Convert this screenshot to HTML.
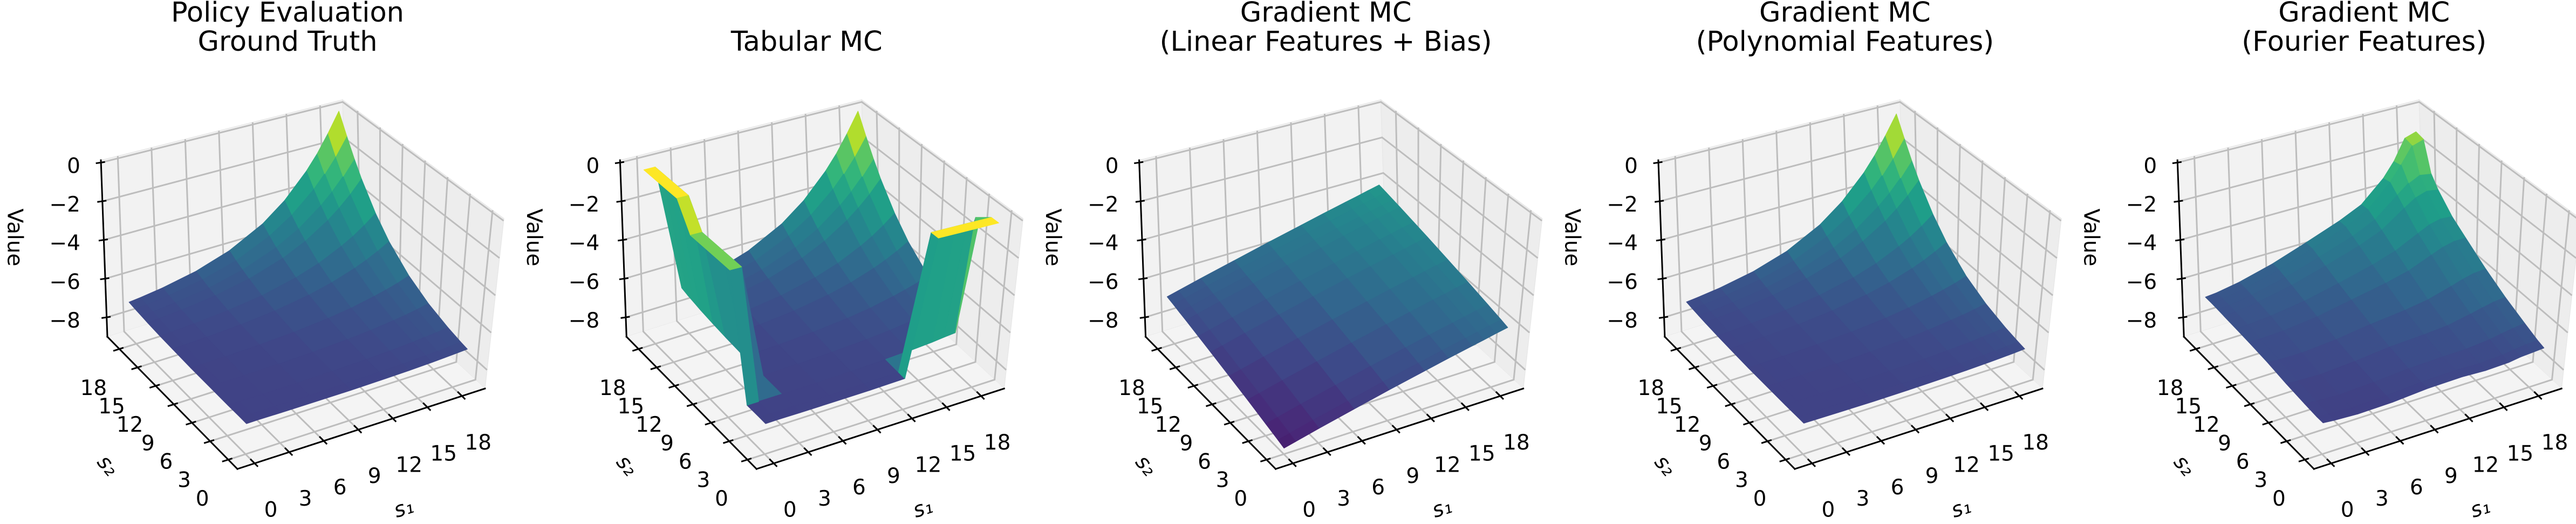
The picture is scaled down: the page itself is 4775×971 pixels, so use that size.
<!DOCTYPE html>
<html><head><meta charset="utf-8"><title>Value function surfaces</title>
<style>
html,body{margin:0;padding:0;background:#fff;}
svg{display:block;font-family:"DejaVu Sans","Liberation Sans",sans-serif;}
</style></head>
<body>
<svg id="chart" xmlns="http://www.w3.org/2000/svg" width="4775" height="971" viewBox="0 0 4775 971"></svg>
<script>
// ---- data ----
const S_GRID = [0,1,3,6,9,12,14,16,17,18,19];
const TICKS_S = [0,3,6,9,12,15,18];
const TICKS_Z = [0,-2,-4,-6,-8];
const TITLES = [["Policy Evaluation","Ground Truth"],["Tabular MC"],["Gradient MC","(Linear Features + Bias)"],["Gradient MC","(Polynomial Features)"],["Gradient MC","(Fourier Features)"]];
// rows = s2 index, cols = s1 index (over S_GRID)
const V_GROUND_TRUTH = [
[-7.49,-7.48,-7.48,-7.46,-7.44,-7.39,-7.35,-7.29,-7.25,-7.21,-7.16],
[-7.48,-7.48,-7.47,-7.46,-7.42,-7.37,-7.32,-7.25,-7.21,-7.16,-7.10],
[-7.48,-7.47,-7.46,-7.44,-7.39,-7.32,-7.25,-7.16,-7.09,-7.03,-6.94],
[-7.46,-7.45,-7.44,-7.39,-7.32,-7.21,-7.10,-6.94,-6.85,-6.73,-6.59],
[-7.44,-7.42,-7.39,-7.32,-7.21,-7.03,-6.85,-6.59,-6.43,-6.25,-6.02],
[-7.39,-7.37,-7.32,-7.21,-7.03,-6.73,-6.43,-6.02,-5.76,-5.45,-5.10],
[-7.35,-7.32,-7.25,-7.09,-6.85,-6.43,-6.02,-5.45,-5.10,-4.67,-4.17],
[-7.29,-7.25,-7.16,-6.94,-6.59,-6.02,-5.45,-4.67,-4.17,-3.59,-2.89],
[-7.25,-7.21,-7.09,-6.85,-6.43,-5.76,-5.10,-4.17,-3.59,-2.89,-2.08],
[-7.21,-7.16,-7.03,-6.73,-6.25,-5.45,-4.67,-3.59,-2.89,-2.08,-1.12],
[-7.16,-7.10,-6.94,-6.59,-6.02,-5.10,-4.17,-2.89,-2.08,-1.12,-0.05]];
const V_TABULAR = [
[-7.49,-7.48,-7.48,-7.46,-7.44,-7.39,-0.40,-0.40,-0.40,-0.40,-0.40],
[-7.48,-7.48,-7.47,-7.46,-7.42,-7.37,-0.40,-0.40,-0.40,-0.40,-0.40],
[-7.48,-7.47,-7.46,-7.44,-7.39,-7.32,-7.25,-7.16,-7.09,-7.03,-1.00],
[-1.60,-1.60,-7.44,-7.39,-7.32,-7.21,-7.10,-6.94,-6.85,-6.73,-6.59],
[-1.60,-1.60,-7.39,-7.32,-7.21,-7.03,-6.85,-6.59,-6.43,-6.25,-6.02],
[-1.60,-1.60,-7.32,-7.21,-7.03,-6.73,-6.43,-6.02,-5.76,-5.45,-5.10],
[-0.30,-0.30,-7.25,-7.09,-6.85,-6.43,-6.02,-5.45,-5.10,-4.67,-4.17],
[-0.30,-0.30,-7.16,-6.94,-6.59,-6.02,-5.45,-4.67,-4.17,-3.59,-2.89],
[-0.30,-0.30,-7.09,-6.85,-6.43,-5.76,-5.10,-4.17,-3.59,-2.89,-2.08],
[-0.30,-0.30,-7.03,-6.73,-6.25,-5.45,-4.67,-3.59,-2.89,-2.08,-1.12],
[-0.30,-0.30,-6.94,-6.59,-6.02,-5.10,-4.17,-2.89,-2.08,-1.12,-0.05]];
const V_LINEAR = [
[-8.70,-8.56,-8.27,-7.85,-7.42,-7.00,-6.71,-6.43,-6.29,-6.14,-6.00],
[-8.60,-8.46,-8.17,-7.75,-7.32,-6.90,-6.61,-6.33,-6.19,-6.04,-5.90],
[-8.41,-8.27,-7.98,-7.56,-7.13,-6.71,-6.42,-6.14,-6.00,-5.85,-5.71],
[-8.12,-7.98,-7.69,-7.27,-6.84,-6.42,-6.13,-5.85,-5.71,-5.56,-5.42],
[-7.84,-7.70,-7.41,-6.99,-6.56,-6.14,-5.85,-5.57,-5.43,-5.28,-5.14],
[-7.55,-7.41,-7.12,-6.70,-6.27,-5.85,-5.56,-5.28,-5.14,-4.99,-4.85],
[-7.36,-7.22,-6.93,-6.51,-6.08,-5.66,-5.37,-5.09,-4.95,-4.80,-4.66],
[-7.16,-7.02,-6.73,-6.31,-5.88,-5.46,-5.17,-4.89,-4.75,-4.60,-4.46],
[-7.07,-6.93,-6.64,-6.22,-5.79,-5.37,-5.08,-4.80,-4.66,-4.51,-4.37],
[-6.97,-6.83,-6.54,-6.12,-5.69,-5.27,-4.98,-4.70,-4.56,-4.41,-4.27],
[-6.88,-6.74,-6.45,-6.03,-5.60,-5.18,-4.89,-4.61,-4.47,-4.32,-4.18]];
const V_POLYNOMIAL = [
[-7.47,-7.47,-7.47,-7.46,-7.43,-7.38,-7.34,-7.28,-7.24,-7.20,-7.15],
[-7.47,-7.47,-7.46,-7.45,-7.41,-7.36,-7.31,-7.24,-7.20,-7.15,-7.09],
[-7.47,-7.46,-7.45,-7.43,-7.38,-7.31,-7.24,-7.15,-7.08,-7.02,-6.94],
[-7.45,-7.44,-7.43,-7.38,-7.31,-7.20,-7.09,-6.93,-6.84,-6.73,-6.60],
[-7.43,-7.41,-7.38,-7.31,-7.20,-7.02,-6.84,-6.58,-6.43,-6.26,-6.05],
[-7.38,-7.36,-7.31,-7.20,-7.02,-6.72,-6.43,-6.03,-5.78,-5.48,-5.14],
[-7.34,-7.31,-7.24,-7.08,-6.84,-6.43,-6.03,-5.47,-5.13,-4.71,-4.23],
[-7.28,-7.24,-7.15,-6.93,-6.58,-6.03,-5.47,-4.71,-4.22,-3.66,-2.98],
[-7.24,-7.20,-7.08,-6.84,-6.43,-5.78,-5.13,-4.22,-3.66,-2.98,-2.18],
[-7.20,-7.15,-7.02,-6.73,-6.26,-5.48,-4.71,-3.66,-2.98,-2.18,-1.24],
[-7.15,-7.09,-6.94,-6.60,-6.05,-5.14,-4.23,-2.98,-2.18,-1.24,-0.20]];
const V_FOURIER = [
[-7.45,-7.50,-7.55,-7.50,-7.35,-7.30,-7.35,-7.30,-7.20,-7.15,-7.10],
[-7.45,-7.50,-7.55,-7.48,-7.33,-7.27,-7.30,-7.22,-7.12,-7.05,-7.00],
[-7.40,-7.45,-7.50,-7.40,-7.25,-7.18,-7.15,-7.02,-6.90,-6.80,-6.72],
[-7.30,-7.35,-7.38,-7.25,-7.05,-6.95,-6.85,-6.60,-6.45,-6.32,-6.25],
[-7.15,-7.20,-7.20,-7.05,-6.80,-6.60,-6.40,-6.05,-5.85,-5.70,-5.65],
[-7.05,-7.05,-7.00,-6.80,-6.45,-6.10,-5.80,-5.30,-5.05,-4.90,-4.90],
[-7.00,-6.95,-6.85,-6.60,-6.20,-5.75,-5.35,-4.75,-4.45,-4.30,-4.35],
[-6.95,-6.90,-6.75,-6.40,-5.90,-5.35,-4.85,-4.00,-3.60,-3.40,-3.50],
[-6.92,-6.88,-6.70,-6.30,-5.75,-5.15,-4.60,-3.60,-3.10,-2.80,-2.90],
[-6.90,-6.85,-6.65,-6.20,-5.60,-4.95,-4.35,-3.20,-2.40,-1.50,-1.30],
[-6.90,-6.85,-6.65,-6.20,-5.60,-4.95,-4.40,-3.30,-2.50,-1.40,-1.20]];
const PANEL_VALUES = [V_GROUND_TRUTH, V_TABULAR, V_LINEAR, V_POLYNOMIAL, V_FOURIER];
const PANEL_NAMES = ["ground-truth","tabular-mc","gradient-mc-linear","gradient-mc-polynomial","gradient-mc-fourier"];

// ---- projection / styling ----
const NS = "http://www.w3.org/2000/svg";
const svg = document.getElementById('chart');
const PANEL_DX = 962.3;
const S_MIN = -1.5, S_SPAN = 21.5, Z_MIN = -9.0, Z_SPAN = 9.12;
const VMIN = -9.5, VMAX = -0.5;
const B00=[440,869], B10=[899,720], B01=[199,624], B11=[645,485];
const E00=[10,-345], E10=[35,-315], E01=[-12,-327], E11=[-10,-300];
function bil(a,b,c,d,u,v){return [a[0]*(1-u)*(1-v)+b[0]*u*(1-v)+c[0]*(1-u)*v+d[0]*u*v, a[1]*(1-u)*(1-v)+b[1]*u*(1-v)+c[1]*(1-u)*v+d[1]*u*v];}
function P(u,v,w){const b=bil(B00,B10,B01,B11,u,v);const e=bil(E00,E10,E01,E11,u,v);return [b[0]+w*e[0], b[1]+w*e[1]];}
function su(s){return (s-S_MIN)/S_SPAN;}
function sw(z){return (z-Z_MIN)/Z_SPAN;}
const VIR = [[0,68,1,84],[0.125,72,40,120],[0.25,62,73,137],[0.375,49,104,142],[0.5,38,130,142],[0.625,31,158,137],[0.75,53,183,121],[0.875,110,206,88],[0.9375,181,222,43],[1,253,231,37]];
function viridis(t){t=Math.max(0,Math.min(1,t));for(let k=1;k<VIR.length;k++){if(t<=VIR[k][0]){const a=VIR[k-1],b=VIR[k];const f=(t-a[0])/(b[0]-a[0]);return 'rgb('+Math.round(a[1]+f*(b[1]-a[1]))+','+Math.round(a[2]+f*(b[2]-a[2]))+','+Math.round(a[3]+f*(b[3]-a[3]))+')';}}return 'rgb(253,231,37)';}
function mk(tag,attrs,parent){const el=document.createElementNS(NS,tag);for(const k in attrs)el.setAttribute(k,attrs[k]);parent.appendChild(el);return el;}
function pts(a){return a.map(p=>p[0].toFixed(1)+','+p[1].toFixed(1)).join(' ');}

PANEL_VALUES.forEach((VAL,pi)=>{
  const g = mk('g',{transform:'translate('+(pi*PANEL_DX).toFixed(1)+',0)'},svg);
  
  

  const t = mk('text',{x:533,'text-anchor':'middle','font-size':51,fill:'#000'},g);
  
  
  const lines = TITLES[pi];
  lines.forEach((ln,li)=>{
    const ts = mk('tspan',{x:533,y:(lines.length===2?(li===0?40:94):94)},t);
    ts.textContent = ln;
  });

  const paneL = mk('polygon',{points:pts([P(0,1,0),P(1,1,0),P(1,1,1),P(0,1,1)]),fill:'#f2f2f2',stroke:'#e8e8e8','stroke-width':1.5},g);
  
  
  const paneR = mk('polygon',{points:pts([P(1,0,0),P(1,1,0),P(1,1,1),P(1,0,1)]),fill:'#ededed',stroke:'#e8e8e8','stroke-width':1.5},g);
  
  
  const floor = mk('polygon',{points:pts([P(0,0,0),P(1,0,0),P(1,1,0),P(0,1,0)]),fill:'#f4f4f4',stroke:'none'},g);
  
  

  const gg = mk('g',{stroke:'#bdbdbd','stroke-width':3,fill:'none'},g);
  
  
  TICKS_S.forEach(s=>{
    const u=su(s);
    mk('polyline',{points:pts([P(u,0,0),P(u,1,0),P(u,1,1)])},gg);
    mk('polyline',{points:pts([P(0,u,0),P(1,u,0),P(1,u,1)])},gg);
  });
  TICKS_Z.forEach(z=>{
    const w=sw(z);
    mk('polyline',{points:pts([P(0,1,w),P(1,1,w),P(1,0,w)])},gg);
  });

  const ax = mk('g',{stroke:'#000','stroke-width':3,fill:'none','stroke-linecap':'square'},g);
  
  
  mk('polyline',{points:pts([P(0,0,0),P(1,0,0)])},ax);
  mk('polyline',{points:pts([P(0,0,0),P(0,1,0)])},ax);
  mk('polyline',{points:pts([P(0,1,0),P(0,1,1)])},ax);
  TICKS_S.forEach(s=>{
    const u=su(s);
    const a=P(u,0,0);
    mk('line',{x1:a[0]+5,y1:a[1]+5,x2:a[0]-7,y2:a[1]-7},ax);
    const lb = mk('text',{x:a[0]+30,y:a[1]+86+13,'text-anchor':'middle','font-size':39,fill:'#000'},g);
    
    
    lb.textContent = s;
    const b=P(0,u,0);
    mk('line',{x1:b[0]-10,y1:b[1]+3,x2:b[0]+6,y2:b[1]-2},ax);
    const lb2 = mk('text',{x:b[0]-48,y:b[1]+72+13,'text-anchor':'middle','font-size':39,fill:'#000'},g);
    
    
    lb2.textContent = s;
  });
  TICKS_Z.forEach(z=>{
    const c=P(0,1,sw(z));
    mk('line',{x1:c[0]-8,y1:c[1]+1,x2:c[0]+6,y2:c[1]-1},ax);
    const lb = mk('text',{x:149,y:c[1]+6+13,'text-anchor':'end','font-size':39,fill:'#000'},g);
    
    
    lb.textContent = z===0?'0':'\u2212'+Math.abs(z);
  });
  const zt = mk('text',{x:25,y:440,'text-anchor':'middle','dominant-baseline':'middle','font-size':39,transform:'rotate(90 25 440)'},g);
  
  
  zt.textContent = 'Value';
  const xt = mk('text',{x:749,y:944,'text-anchor':'middle','dominant-baseline':'middle','font-size':39,'font-style':'italic',transform:'rotate(-18 749 944)'},g);
  
  
  xt.textContent = 's\u2081';
  const yt = mk('text',{x:198,y:864,'text-anchor':'middle','dominant-baseline':'middle','font-size':39,'font-style':'italic',transform:'rotate(50 198 864)'},g);
  
  
  yt.textContent = 's\u2082';

  const sg = mk('g',{'stroke-width':1.2,'stroke-linejoin':'round'},g);
  
  
  const faces=[];
  const n=S_GRID.length;
  for(let j=0;j<n-1;j++){for(let i=0;i<n-1;i++){
    const c=[[i,j],[i+1,j],[i+1,j+1],[i,j+1]].map(([a,b])=>[su(S_GRID[a]),su(S_GRID[b]),sw(VAL[b][a]),VAL[b][a]]);
    const mu=(c[0][0]+c[1][0]+c[2][0]+c[3][0])/4, mv=(c[0][1]+c[1][1]+c[2][1]+c[3][1])/4, mw=(c[0][2]+c[1][2]+c[2][2]+c[3][2])/4;
    const mz=(c[0][3]+c[1][3]+c[2][3]+c[3][3])/4;
    faces.push({c:c,key:0.61*(mu+mv)-0.37*mw,col:viridis((mz-VMIN)/(VMAX-VMIN))});
  }}
  faces.sort((a,b)=>b.key-a.key);
  faces.forEach(f=>{
    const poly = mk('polygon',{points:pts(f.c.map(q=>P(q[0],q[1],q[2]))),fill:f.col,stroke:f.col},sg);
    
    
  });
});
</script>
</body></html>
